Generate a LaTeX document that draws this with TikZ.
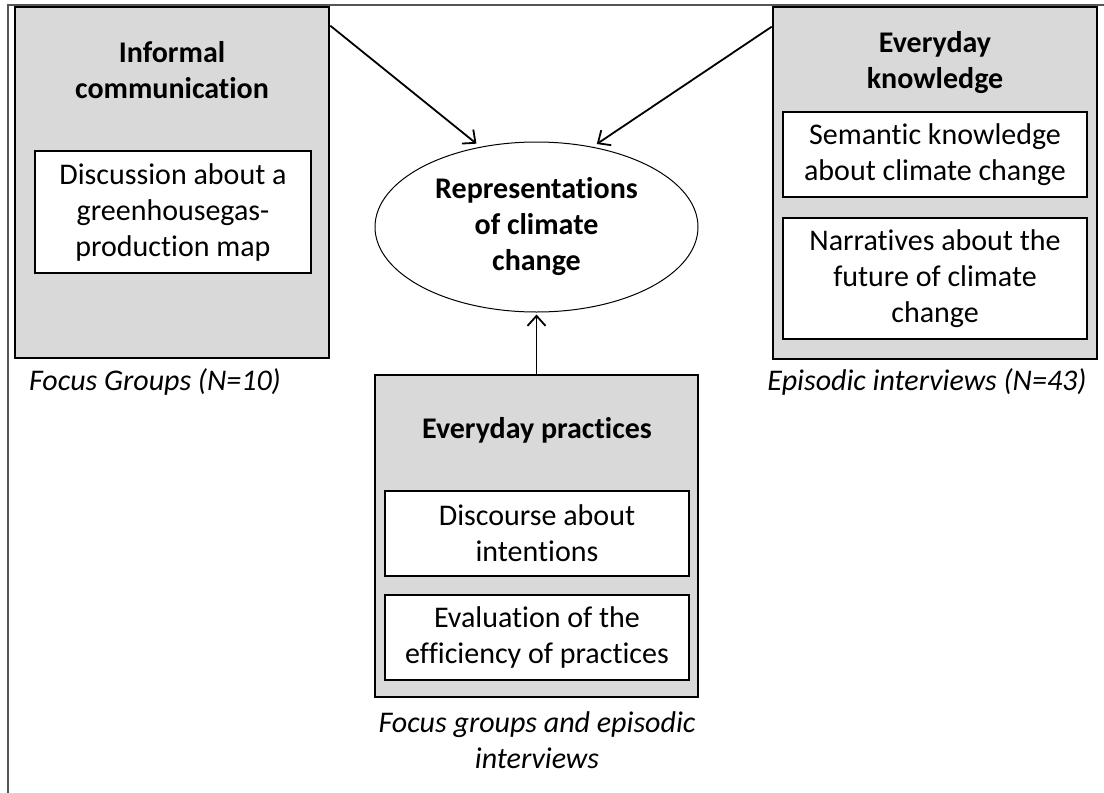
\documentclass[tikz,border=0pt]{standalone}
\usepackage{fontspec}
\setmainfont{Carlito}[Ligatures={NoCommon}]
\usetikzlibrary{positioning,shapes.geometric,arrows.meta,calc}
\definecolor{boxgray}{HTML}{D9D9D9}
\definecolor{framegray}{HTML}{555555}

\begin{document}
\begin{tikzpicture}[x=0.5pt,y=-0.5pt,
	every node/.append style={font=\fontsize{15}{18}\selectfont, align=center},
	outer/.style={draw, line width=1.3pt, fill=boxgray, inner sep=0pt},
	inner/.style={draw, line width=1pt, fill=white, inner sep=0pt},
	title/.style={font=\fontsize{15}{18}\selectfont\bfseries},
	caption/.style={font=\fontsize{15}{18}\selectfont\itshape},
	arr/.style={-{Straight Barb[length=5pt,width=9pt]}, line width=0.9pt, shorten >=2.5pt}]
	\useasboundingbox (0,0) rectangle (1104,793);
	% frame
	\draw[framegray, line width=0.6pt] (8,793) -- (8,5) -- (1104,5);
	% informal communication
	\node[outer, minimum width=157pt, minimum height=175.5pt] (infocomm) at (172,182.5) {};
	\node[title] (infocommtitle) at (172,70) {Informal\\communication};
	\node[inner, minimum width=138pt, minimum height=61pt] (discussion) at (173,212) {Discussion about a\\greenhousegas-\\production map};
	\node[caption] (infocommcap) at (155,382) {Focus Groups (N=10)};
	% everyday knowledge
	\node[outer, minimum width=162pt, minimum height=176pt] (knowledge) at (935,183) {};
	\node[title] (knowledgetitle) at (935,63) {Everyday\\knowledge};
	\node[inner, minimum width=152pt, minimum height=42.5pt] (semantic) at (935,154.5) {Semantic knowledge\\about climate change};
	\node[inner, minimum width=152pt, minimum height=60.5pt] (narratives) at (935,278.5) {Narratives about the\\future of climate\\change};
	\node[caption] (knowledgecap) at (927,382) {Episodic interviews (N=43)};
	% everyday practices
	\node[outer, minimum width=161.5pt, minimum height=161pt] (practices) at (536.5,536) {};
	\node[title] (practicestitle) at (537,430) {Everyday practices};
	\node[inner, minimum width=152pt, minimum height=42.5pt] (discourse) at (537,533.5) {Discourse about\\intentions};
	\node[inner, minimum width=152pt, minimum height=42.5pt] (evaluation) at (537,637.5) {Evaluation of the\\efficiency of practices};
	\node[caption] (practicescap) at (537,740) {Focus groups and episodic\\interviews};
	% representations
	\node[ellipse, draw, line width=0.5pt, minimum width=161.5pt, minimum height=85pt, inner sep=0pt, title] (repr) at (536.5,227) {Representations\\of climate\\change};
	\draw[arr] ([yshift=-10pt]infocomm.north east) -- (repr.125);
	\draw[arr] ([yshift=-10.5pt]knowledge.north west) -- (repr.55);
	\draw[arr, shorten >=1pt] (practices.north) -- (repr.south);
\end{tikzpicture}
\end{document}
